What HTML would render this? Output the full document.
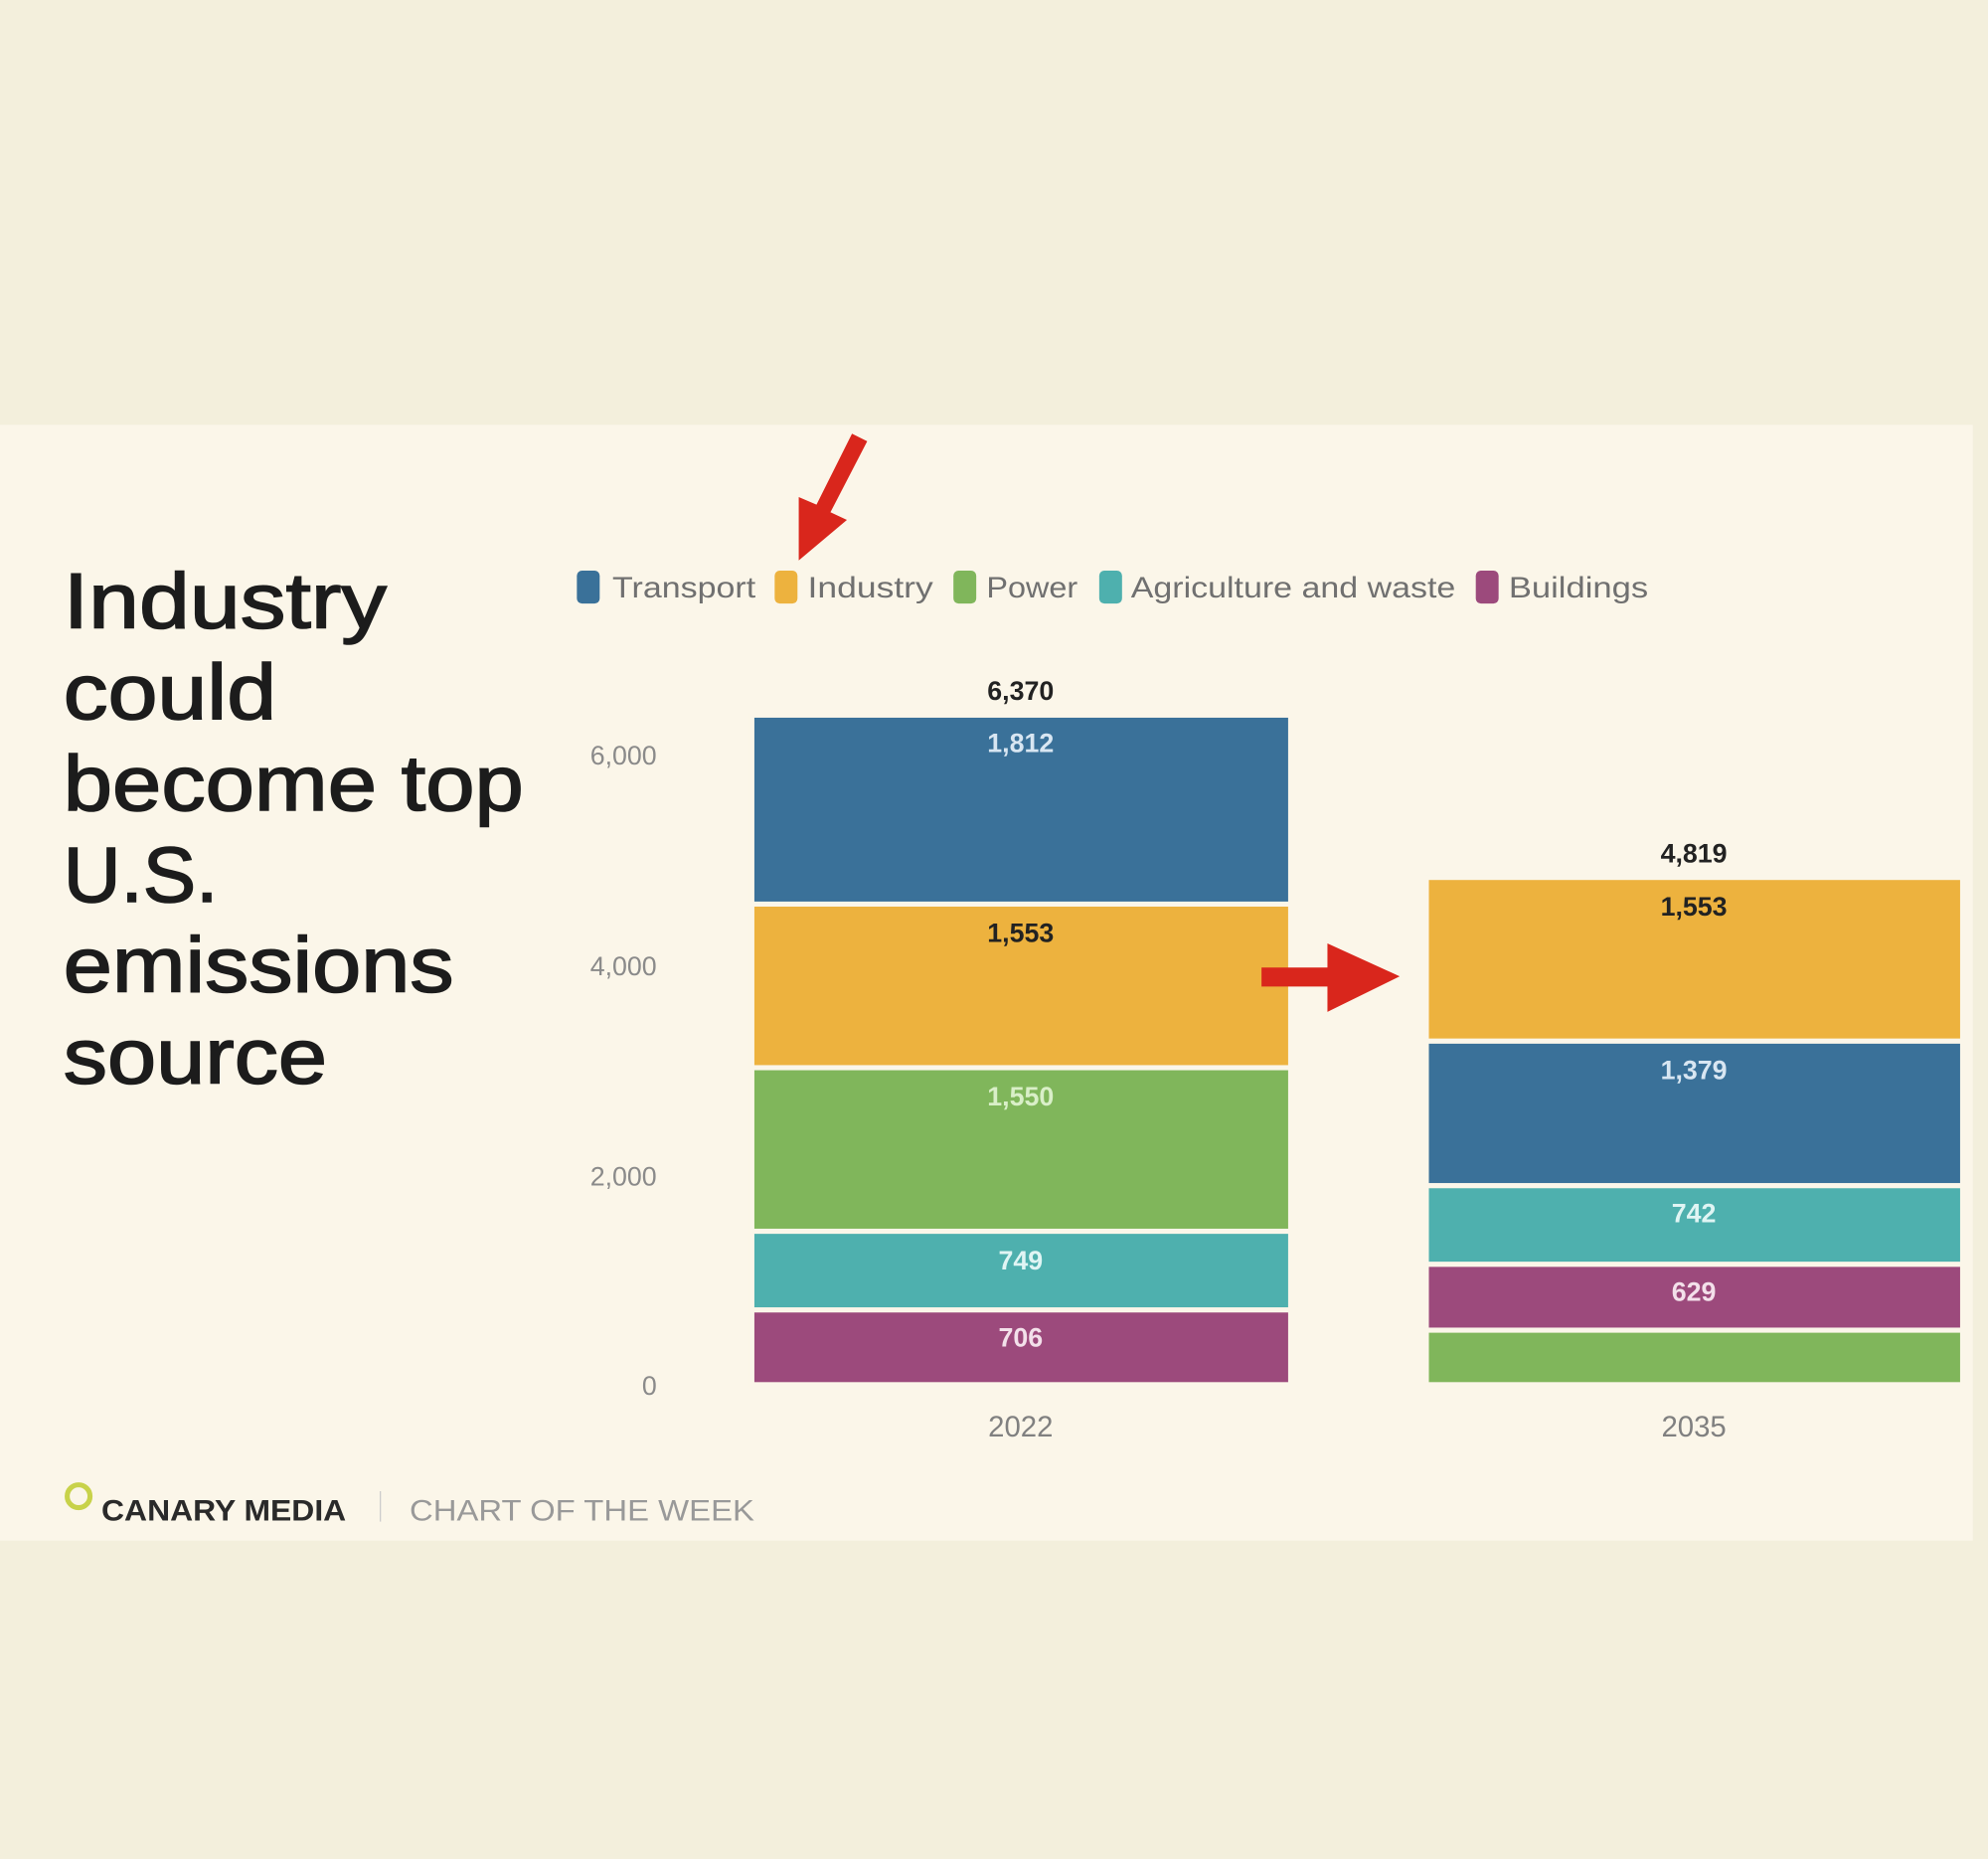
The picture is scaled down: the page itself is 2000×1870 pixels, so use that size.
<!DOCTYPE html>
<html><head><meta charset="utf-8"><style>
html,body{margin:0;padding:0;}
body{width:2000px;height:1863px;overflow:hidden;background:#f3efdc;position:relative;}
#w{position:absolute;left:0;top:0;width:1568px;height:1461px;transform:scale(1.27551);transform-origin:0 0;font-family:"Liberation Sans",sans-serif;}
</style></head><body><div id="w">
<svg width="1568" height="1461" viewBox="0 0 1568 1461" xmlns="http://www.w3.org/2000/svg" font-family="Liberation Sans, sans-serif">
<rect x="0" y="0" width="1568" height="1461" fill="#f3efdc"/>
<rect x="0" y="335" width="1556" height="880" fill="#fbf6e9"/>
<g font-size="62" fill="#1c1c1c" stroke="#1c1c1c" stroke-width="1.2">
<text x="50" y="495" textLength="255" lengthAdjust="spacingAndGlyphs">Industry</text>
<text x="50" y="567" textLength="168" lengthAdjust="spacingAndGlyphs">could</text>
<text x="50" y="639" textLength="363" lengthAdjust="spacingAndGlyphs">become top</text>
<text x="50" y="711" textLength="122" lengthAdjust="spacingAndGlyphs">U.S.</text>
<text x="50" y="782" textLength="308" lengthAdjust="spacingAndGlyphs">emissions</text>
<text x="50" y="854" textLength="208" lengthAdjust="spacingAndGlyphs">source</text>
</g>
<g font-size="23" fill="#707070">
<rect x="455" y="450" width="18" height="26" rx="4" fill="#3a7199"/><text x="483" y="471" textLength="113" lengthAdjust="spacingAndGlyphs">Transport</text>
<rect x="611" y="450" width="18" height="26" rx="4" fill="#edb23e"/><text x="637" y="471" textLength="99" lengthAdjust="spacingAndGlyphs">Industry</text>
<rect x="752" y="450" width="18" height="26" rx="4" fill="#80b65b"/><text x="778" y="471" textLength="72" lengthAdjust="spacingAndGlyphs">Power</text>
<rect x="867" y="450" width="18" height="26" rx="4" fill="#4eb0ae"/><text x="892" y="471" textLength="256" lengthAdjust="spacingAndGlyphs">Agriculture and waste</text>
<rect x="1164" y="450" width="18" height="26" rx="4" fill="#9c4a7c"/><text x="1190" y="471" textLength="110" lengthAdjust="spacingAndGlyphs">Buildings</text>
</g>
<g font-size="21" fill="#8a8a8a" text-anchor="end">
<text x="518" y="603">6,000</text><text x="518" y="769">4,000</text><text x="518" y="935">2,000</text><text x="518" y="1100">0</text>
</g>
<g stroke="#fbf6e9" stroke-width="4">
<rect x="593" y="1033" width="425" height="59" fill="#9c4a7c"/>
<rect x="593" y="971" width="425" height="62" fill="#4eb0ae"/>
<rect x="593" y="842" width="425" height="129" fill="#80b65b"/>
<rect x="593" y="713" width="425" height="129" fill="#edb23e"/>
<rect x="593" y="564" width="425" height="149" fill="#3a7199"/>
<rect x="1125" y="1049" width="423" height="43" fill="#80b65b"/>
<rect x="1125" y="997" width="423" height="52" fill="#9c4a7c"/>
<rect x="1125" y="935" width="423" height="62" fill="#4eb0ae"/>
<rect x="1125" y="821" width="423" height="114" fill="#3a7199"/>
<rect x="1125" y="692" width="423" height="129" fill="#edb23e"/>
</g>
<g font-size="21" font-weight="bold" text-anchor="middle">
<text x="805" y="552" fill="#222">6,370</text>
<text x="805" y="593" fill="#d8e6f2">1,812</text>
<text x="805" y="743" fill="#222">1,553</text>
<text x="805" y="872" fill="#d9efc8">1,550</text>
<text x="805" y="1001" fill="#e0f5f4">749</text>
<text x="805" y="1062" fill="#f3e0ea">706</text>
<text x="1336" y="680" fill="#222">4,819</text>
<text x="1336" y="722" fill="#222">1,553</text>
<text x="1336" y="851" fill="#d8e6f2">1,379</text>
<text x="1336" y="964" fill="#e0f5f4">742</text>
<text x="1336" y="1026" fill="#f3e0ea">629</text>
</g>
<g font-size="23" fill="#808080" text-anchor="middle">
<text x="805" y="1133">2022</text><text x="1336" y="1133">2035</text>
</g>
<polygon points="995,763 1047,763 1047,744 1104,770 1047,798 1047,778 995,778" fill="#d9261c"/>
<polygon points="684,348 672,342 644,398 630,392 630,442 668,410 655,404" fill="#d9261c"/>
<circle cx="62" cy="1180" r="9" fill="none" stroke="#c8d24a" stroke-width="4"/>
<text x="80" y="1199" font-size="23" font-weight="bold" fill="#2a2a2a" textLength="193" lengthAdjust="spacingAndGlyphs">CANARY MEDIA</text>
<line x1="300" y1="1176" x2="300" y2="1200" stroke="#ccc" stroke-width="1"/>
<text x="323" y="1199" font-size="23" fill="#999" textLength="272" lengthAdjust="spacingAndGlyphs">CHART OF THE WEEK</text>
</svg>
</div></body></html>
